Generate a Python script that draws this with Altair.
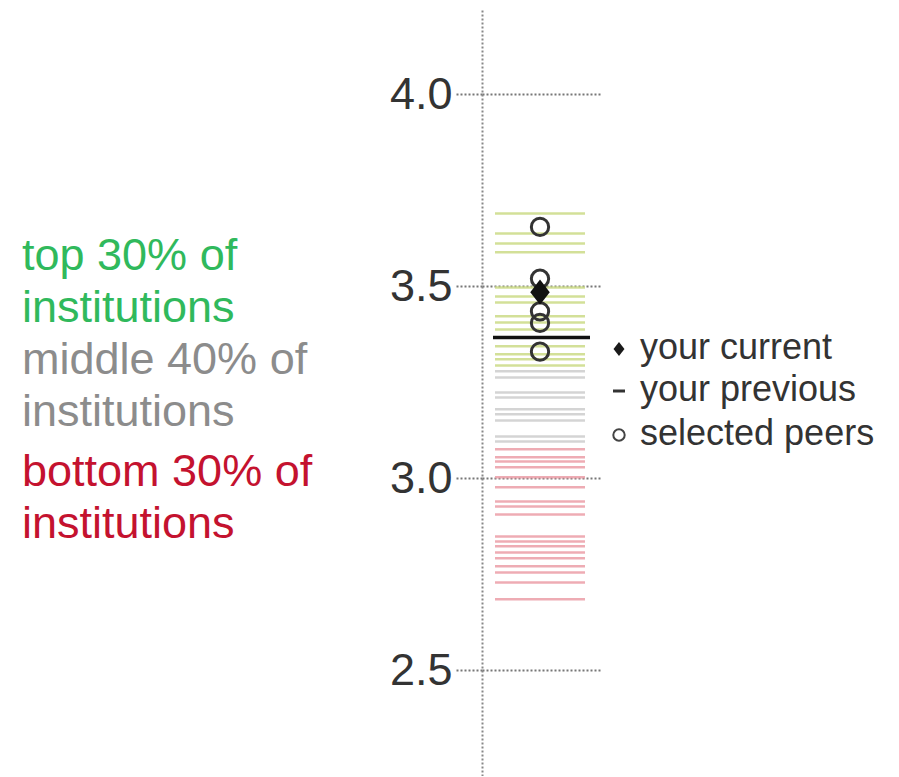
import altair as alt
import pandas as pd

# institution scores (horizontal strips)
top_vals = [3.690, 3.638, 3.612, 3.589, 3.497, 3.474, 3.458, 3.422, 3.406, 3.388, 3.344, 3.323, 3.310, 3.294]
mid_vals = [3.279, 3.263, 3.224, 3.211, 3.180, 3.167, 3.151, 3.109, 3.096]
bot_vals = [3.076, 3.055, 3.044, 3.029, 3.003, 2.977, 2.940, 2.927, 2.906, 2.849, 2.836, 2.823,
            2.807, 2.792, 2.771, 2.755, 2.729, 2.685]
peer_vals = [3.655, 3.520, 3.435, 3.405, 3.330]
current_val = [3.485]
previous_val = [3.367]
tick_vals = [2.5, 3.0, 3.5, 4.0]
groups = ["top", "middle", "bottom"]
group_colors = ["#cbdb86", "#cccccc", "#eb9ea7"]

inst = pd.DataFrame(
    {"value": top_vals + mid_vals + bot_vals,
     "group": ["top"] * len(top_vals) + ["middle"] * len(mid_vals) + ["bottom"] * len(bot_vals)}
)
peers = pd.DataFrame({"value": peer_vals})
cur = pd.DataFrame({"value": current_val})
prev = pd.DataFrame({"value": previous_val})

yscale = alt.Scale(domain=[2.225, 4.225], nice=False, zero=False)
yaxis = alt.Axis(
    values=tick_vals, format=".1f", title=None,
    labelFont="Liberation Sans", labelFontSize=45, labelColor="#333333", labelPadding=3,
    tickSize=27, tickColor="#777777", tickDash=[2, 2], tickWidth=2,
    grid=True, gridColor="#777777", gridDash=[2, 2], gridWidth=2,
    domainColor="#888888", domainDash=[2, 2], domainWidth=2,
)

base_y = alt.Y("value:Q", scale=yscale, axis=yaxis)

strips = alt.Chart(inst).mark_rule(strokeWidth=2.5, opacity=0.85).encode(
    x=alt.value(13), x2=alt.value(103),
    y=base_y,
    color=alt.Color("group:N", scale=alt.Scale(domain=groups, range=group_colors), legend=None),
)

prev_rule = alt.Chart(prev).mark_rule(strokeWidth=3.5, color="#111111").encode(
    x=alt.value(11), x2=alt.value(108), y=base_y
)

peer_pts = alt.Chart(peers).mark_point(
    shape="circle", filled=False, size=300, strokeWidth=3, color="#333333", opacity=1
).encode(x=alt.value(58), y=base_y)

diamond = "M0,-1.3L1,0L0,1.3L-1,0Z"
cur_pt = alt.Chart(cur).mark_point(
    shape=diamond, filled=True, size=380, color="#111111", opacity=1
).encode(x=alt.value(58), y=base_y)

# left annotations
def left_text(txt, color, yv):
    return alt.Chart(pd.DataFrame({"t": [txt]})).mark_text(
        align="left", baseline="middle", font="Liberation Sans", fontSize=45,
        lineBreak="\n", lineHeight=52, color=color
    ).encode(text="t:N", x=alt.value(-460), y=alt.value(yv))

t1 = left_text("top 30% of\ninstitutions", "#30b95c", 248)
t2 = left_text("middle 40% of\ninstitutions", "#8c8c8c", 352)
t3 = left_text("bottom 30% of\ninstitutions", "#c4122f", 464)

# legend
legend_labels = ["your current", "your previous", "selected peers"]
def leg_text(txt, yv):
    return alt.Chart(pd.DataFrame({"t": [txt]})).mark_text(
        align="left", baseline="middle", font="Liberation Sans", fontSize=36, color="#333333"
    ).encode(text="t:N", x=alt.value(158), y=alt.value(yv))

l1 = leg_text(legend_labels[0], 340)
l2 = leg_text(legend_labels[1], 382)
l3 = leg_text(legend_labels[2], 426)
s1 = alt.Chart(pd.DataFrame({"t": [0]})).mark_point(
    shape=diamond, filled=True, size=120, color="#1a1a1a", opacity=1
).encode(x=alt.value(137), y=alt.value(341))
s2 = alt.Chart(pd.DataFrame({"t": [0]})).mark_rule(strokeWidth=3, color="#333333").encode(
    x=alt.value(131), x2=alt.value(143), y=alt.value(383)
)
s3 = alt.Chart(pd.DataFrame({"t": [0]})).mark_point(
    shape="circle", filled=False, size=130, strokeWidth=2, color="#444444", opacity=1
).encode(x=alt.value(137), y=alt.value(427))

chart = alt.layer(
    strips, prev_rule, peer_pts, cur_pt, t1, t2, t3, l1, l2, l3, s1, s2, s3
).properties(
    width=118, height=768,
    autosize=alt.AutoSizeParams(type="none"),
    padding={"left": 474, "top": 0, "right": 290, "bottom": 0},
).configure(background="white").configure_view(strokeWidth=0)

chart.save("out.html", embed_options={"renderer": "svg", "actions": False})
